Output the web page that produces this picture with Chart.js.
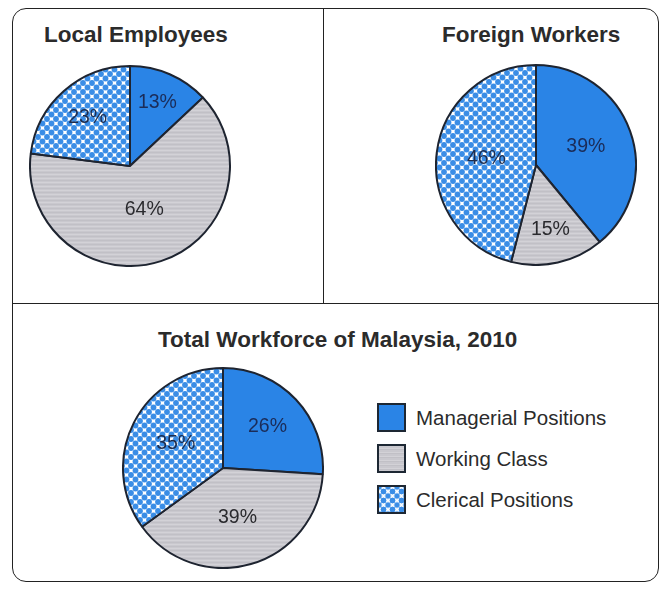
<!DOCTYPE html>
<html>
<head>
<meta charset="utf-8">
<script src="https://cdn.jsdelivr.net/npm/chart.js@4"></script>
<style>
  html, body { margin: 0; padding: 0; background: #fff; }
  body { width: 672px; height: 594px; position: relative; overflow: hidden;
         font-family: "Liberation Sans", Arial, Helvetica, sans-serif; color: #2b2b2b; }
  .frame { position: absolute; left: 12px; top: 8px; width: 647px; height: 574px;
           border: 1.5px solid #222; border-radius: 14px; box-sizing: border-box; }
  .vline { position: absolute; left: 323px; top: 8px; width: 0; height: 296px; border-left: 1.5px solid #222; }
  .hline { position: absolute; left: 12px; top: 303px; width: 647px; height: 0; border-top: 1.5px solid #222; }
  .title { position: absolute; font-weight: bold; font-size: 22.5px; white-space: nowrap; line-height: 1; }
  canvas { position: absolute; }
  .legend { position: absolute; left: 377px; top: 403px; }
  .row { position: absolute; left: 0; height: 29px; white-space: nowrap; }
  .sw { position: absolute; left: 0; top: 0; width: 29px; height: 29px; box-sizing: border-box; border: 2.5px solid #1d2733; }
  .lbl { position: absolute; left: 39px; top: 2px; font-size: 20.5px; line-height: 26px; }
</style>
</head>
<body>
<div class="frame"></div>
<div class="vline"></div>
<div class="hline"></div>

<div class="title" style="left:44px; top:24px;">Local Employees</div>
<div class="title" style="left:442px; top:24px;">Foreign Workers</div>
<div class="title" style="left:158px; top:329px;">Total Workforce of Malaysia, 2010</div>

<canvas id="localChart" width="202" height="202" style="left:29px; top:65px;"></canvas>
<canvas id="foreignChart" width="202" height="202" style="left:435px; top:64px;"></canvas>
<canvas id="totalChart" width="202" height="202" style="left:122px; top:367px;"></canvas>

<div class="legend" id="legend"></div>

<script>
// categories and values (percent)
const categories = ["Managerial Positions", "Working Class", "Clerical Positions"];
const localValues = [13, 64, 23];
const foreignValues = [39, 15, 46];
const totalValues = [26, 39, 35];

// where each percentage label sits, as a fraction of the radius
const localLabelPos = [0.69, 0.46, 0.64];
const foreignLabelPos = [0.53, 0.66, 0.5];
const totalLabelPos = [0.61, 0.52, 0.53];

const BLUE = "#2a84e6";
const DOT = "#3a8de6";

function stripePattern() {
  const c = document.createElement("canvas");
  c.width = 4; c.height = 4;
  const g = c.getContext("2d");
  g.fillStyle = "#c9c8ce"; g.fillRect(0, 0, 4, 4);
  g.fillStyle = "#d3d2d7"; g.fillRect(0, 1, 4, 1);
  g.fillStyle = "#c1c0c6"; g.fillRect(0, 3, 4, 1);
  return g.createPattern(c, "repeat");
}

function dotPattern() {
  const c = document.createElement("canvas");
  c.width = 9; c.height = 9;
  const g = c.getContext("2d");
  g.fillStyle = "#ffffff"; g.fillRect(0, 0, 9, 9);
  g.fillStyle = DOT;
  [[0, 0], [9, 0], [0, 9], [9, 9], [4.5, 4.5]].forEach(([x, y]) => {
    g.beginPath(); g.arc(x, y, 2.9, 0, Math.PI * 2); g.fill();
  });
  return g.createPattern(c, "repeat");
}

const fills = [BLUE, stripePattern(), dotPattern()];
const labelColors = ["#1b2c58", "#2a2a2e", "#1f2d4d"];

const pctLabels = {
  id: "pctLabels",
  afterDatasetsDraw(chart, args, opts) {
    const { ctx } = chart;
    const meta = chart.getDatasetMeta(0);
    const values = chart.data.datasets[0].data;
    ctx.save();
    ctx.font = "19.5px 'Liberation Sans', Arial, sans-serif";
    ctx.textAlign = "center";
    ctx.textBaseline = "middle";
    meta.data.forEach((arc, i) => {
      const p = arc.getProps(["x", "y", "startAngle", "endAngle", "outerRadius"], true);
      const mid = (p.startAngle + p.endAngle) / 2;
      const r = p.outerRadius * opts.pos[i];
      ctx.fillStyle = labelColors[i];
      ctx.fillText(values[i] + "%", p.x + Math.cos(mid) * r, p.y + Math.sin(mid) * r);
    });
    ctx.restore();
  }
};

function makePie(id, values, labelPos) {
  const canvas = document.getElementById(id);
  return new Chart(canvas.getContext("2d"), {
    type: "pie",
    data: {
      labels: categories,
      datasets: [{
        data: values,
        backgroundColor: fills,
        borderColor: "#1e2430",
        borderWidth: 2,
      }],
    },
    options: {
      responsive: false,
      animation: false,
      devicePixelRatio: 1,
      layout: { padding: 0 },
      plugins: {
        legend: { display: false },
        tooltip: { enabled: false },
        pctLabels: { pos: labelPos },
      },
    },
    plugins: [pctLabels],
  });
}

makePie("localChart", localValues, localLabelPos);
makePie("foreignChart", foreignValues, foreignLabelPos);
makePie("totalChart", totalValues, totalLabelPos);

// legend for the total chart
const swatchCss = [
  "background:" + BLUE + ";",
  "background: repeating-linear-gradient(180deg, #c9c8ce 0 2px, #d3d2d7 2px 3px, #c1c0c6 3px 4px);",
  "background-color:#fff; background-image: radial-gradient(circle, " + DOT + " 2.7px, transparent 3.2px), radial-gradient(circle, " + DOT + " 2.7px, transparent 3.2px); background-size: 9px 9px, 9px 9px; background-position: 0 0, 4.5px 4.5px;",
];
const legend = document.getElementById("legend");
categories.forEach((name, i) => {
  const row = document.createElement("div");
  row.className = "row";
  row.style.top = (i * 41) + "px";
  row.innerHTML = '<div class="sw" style="' + swatchCss[i] + '"></div><div class="lbl"></div>';
  row.querySelector(".lbl").textContent = name;
  legend.appendChild(row);
});
</script>
</body>
</html>
